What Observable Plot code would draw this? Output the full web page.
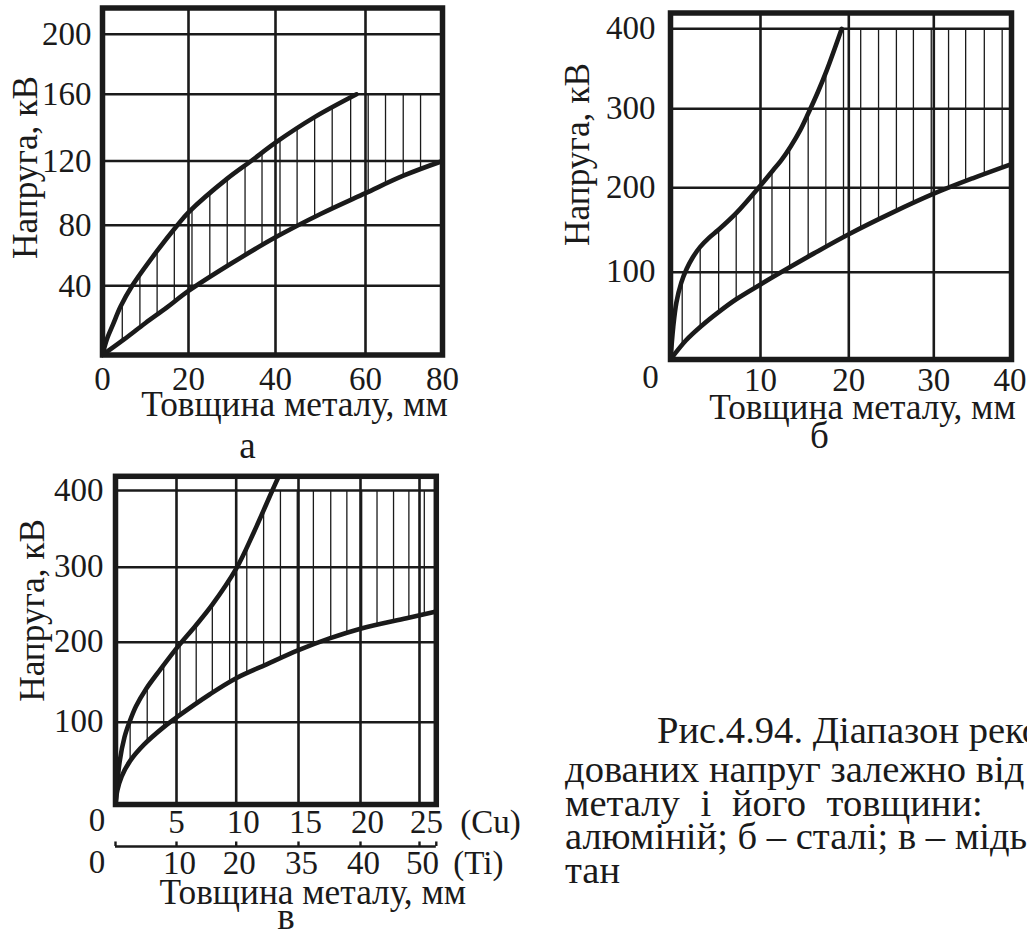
<!DOCTYPE html>
<html>
<head>
<meta charset="utf-8">
<script src="https://cdn.jsdelivr.net/npm/d3@7"></script>
<script src="https://cdn.jsdelivr.net/npm/@observablehq/plot@0.6"></script>
<style>
  html, body { margin: 0; padding: 0; background: #fff; }
  #page { position: relative; width: 1027px; height: 935px; overflow: hidden;
          font-family: "Liberation Serif", "Times New Roman", serif; color: #1a1a1a; }
  .panel { position: absolute; }
  .cap { position: absolute; white-space: pre; font-size: 38.6px; line-height: 40px; }
</style>
</head>
<body>
<div id="page"></div>
<script>
// ---------------- DATA ----------------
// Panel а (алюміній)
const aXGrid = [0, 20, 40, 60, 80];
const aYGrid = [0, 40, 80, 120, 160, 200, 217.5];
const aXTicks = [0, 20, 40, 60, 80];
const aYTicks = [40, 80, 120, 160, 200];
const aUpper = [[0,0],[1,9],[2.5,18],[4.2,28],[6.9,40],[12.7,63],[17.4,80],[20,88],[28.9,109],[34.4,120],[40,131],[48.5,146],[58,160]];
const aLower = [[0,0],[5,9],[10,18.5],[15,27.5],[20,37],[30,55],[40,72],[50,87],[60,100],[70,111],[80,120]];
const aHatch = [4.6,8.7,12.7,16.7,20.8,24.9,28.9,33.0,36.9,41.0,44.8,48.7,52.6,56.7,60.7,65.2,69.8,74.3];
const aCap = 160;

// Panel б (сталь)
const bXGrid = [0, 10, 20, 30, 40];
const bYGrid = [0, 100, 200, 300, 400, 419.75];
const bXTicks = [10, 20, 30, 40];
const bYTicks = [100, 200, 300, 400];
const bUpper = [[0,0],[0.3,37],[0.65,65],[1.2,88],[1.8,104],[2.5,118],[3.3,130],[4.3,141],[5.3,150],[7.3,170],[10,203],[11.4,222],[12.3,234],[13.4,252],[14.5,273],[15.4,294],[16.5,321],[17.5,348],[19.2,400]];
const bLower = [[0,0],[1.73,22],[3.5,39],[5.3,54],[7.3,69],[10,86],[11.4,94.5],[13.4,106.5],[16,122],[20,145],[25,170],[30,193],[35,212],[40,230]];
const bHatch = [1.3,3.3,5.35,7.3,9.26,11.3,13.3,15.4,17.4,19.4,21.4,23.5,25.6,27.6,29.7,31.9,34.1,36.5,38.8];
const bCap = 400;

// Panel в (мідь і титан)
const cXGrid = [0, 5, 10, 15, 20, 25, 26.4];
const cYGrid = [0, 100, 200, 300, 400, 418.5];
const cuTicks = [5, 10, 15, 20, 25];
const tiTickPos = [0, 5, 10, 15, 20, 25, 26.4];
const tiLabels = ["10", "20", "35", "40", "50"];
const cYTicks = [100, 200, 300, 400];
const cUpper = [[0,0],[0.34,52],[0.74,82],[1.14,100],[1.68,120],[2.48,141],[3.68,166],[5.2,196],[6.6,222],[8,250],[10,298],[11.4,345],[12.9,400],[13.4,418]];
const cLower = [[0,0],[0.15,17],[0.5,34],[1.2,53],[2.35,73],[3.95,94],[5,106],[7.8,135],[10,155],[12.4,172],[15,190],[17.5,205],[20,218],[23.9,232],[26.4,241]];
const cHatch = [1.2,2.6,3.95,5.3,6.65,8.0,9.45,10.85,12.2,13.55,14.9,16.2,17.6,18.9,20.1,21.4,22.8,24.1,25.4];
const cCap = 400;

// Texts
const yTitle = "Напруга, кВ";
const xTitle = "Товщина металу, мм";
const captionLines = [
  "Рис.4.94. Діапазон реко",
  "дованих напруг залежно від",
  "металу і його товщини:",
  "алюміній; б – сталі; в – мідь",
  "тан"
];

// ---------------- STYLE / LAYOUT ----------------
const INK = "#1a1a1a";
const FONT = "'Liberation Serif', 'Times New Roman', serif";
const FS = 33;     // tick labels
const FT = 35.3;   // axis titles
const FL = 37;     // panel letters
const page = document.getElementById("page");

function makePanel({box, xDomain, xRange, yDomain, yRange, upper, lower, hatch, cap, xGrid, yGrid, extra}) {
  const xr = xRange.map(v => v - box.left);
  const yr = yRange.map(v => v - box.top);
  const X = d => d[0], Y = d => d[1];
  const marks = [
    Plot.ruleX(hatch, {x: d => d, y1: 0, y2: cap, stroke: INK, strokeWidth: 1.3}),
    Plot.areaY(upper, {x: X, y1: Y, y2: cap, fill: "white", curve: "catmull-rom"}),
    Plot.areaY(lower, {x: X, y1: 0, y2: Y, fill: "white", curve: "catmull-rom"}),
    Plot.ruleX(xGrid, {x: d => d, stroke: INK, strokeWidth: 2.6}),
    Plot.ruleY(yGrid, {y: d => d, stroke: INK, strokeWidth: 2.6}),
    Plot.line(upper, {x: X, y: Y, stroke: INK, strokeWidth: 4.6, curve: "catmull-rom"}),
    Plot.line(lower, {x: X, y: Y, stroke: INK, strokeWidth: 4.6, curve: "catmull-rom"}),
    Plot.frame({stroke: INK, strokeWidth: 5.5}),
    ...extra
  ];
  const svg = Plot.plot({
    width: box.width,
    height: box.height,
    marginLeft: xr[0],
    marginRight: box.width - xr[xr.length - 1],
    marginTop: yr[yr.length - 1],
    marginBottom: box.height - yr[0],
    x: {type: "linear", domain: xDomain, range: xr, axis: null},
    y: {type: "linear", domain: yDomain, range: yr, axis: null},
    style: {background: "transparent", fontFamily: FONT, fontSize: FS + "px", color: INK, overflow: "visible"},
    marks
  });
  svg.classList.add("panel");
  svg.style.left = box.left + "px";
  svg.style.top = box.top + "px";
  page.appendChild(svg);
}

const T = (o) => ({fill: INK, fontSize: FS, lineAnchor: "bottom", ...o});
const YT = (o) => T({text: d => d, frameAnchor: "left", rotate: -90, textAnchor: "middle", lineAnchor: "middle", fontSize: FT, ...o});

// Panel а
makePanel({
  box: {left: 0, top: 0, width: 480, height: 470},
  xDomain: aXGrid, xRange: [102, 188, 275, 365, 442],
  yDomain: aYGrid, yRange: [354.5, 285.3, 224.7, 160.5, 93.8, 33.8, 7.5],
  upper: aUpper, lower: aLower, hatch: aHatch, cap: aCap,
  xGrid: aXTicks, yGrid: aYTicks,
  extra: [
    Plot.text(aXTicks, T({x: d => d, text: d => String(d), frameAnchor: "bottom", dy: 35})),
    Plot.text(aYTicks, T({y: d => d, text: d => String(d), frameAnchor: "left", textAnchor: "end", dx: -11, dy: 11})),
    Plot.text([yTitle], YT({dx: -77, dy: -14})),
    Plot.text([xTitle], T({text: d => d, frameAnchor: "bottom", dx: 22, dy: 61, fontSize: FT})),
    Plot.text(["а"], T({text: d => d, frameAnchor: "bottom", dx: -25, dy: 103, fontSize: FL}))
  ]
});

// Panel б
makePanel({
  box: {left: 540, top: 0, width: 487, height: 460},
  xDomain: bXGrid, xRange: [670, 760, 848.3, 933.3, 1011],
  yDomain: bYGrid, yRange: [359, 271.7, 187.3, 108.3, 28.3, 12.5],
  upper: bUpper, lower: bLower, hatch: bHatch, cap: bCap,
  xGrid: bXTicks, yGrid: bYTicks,
  extra: [
    Plot.text(bXTicks.slice(0, 3), T({x: d => d, text: d => String(d), frameAnchor: "bottom", dy: 31})),
    Plot.text(bXTicks.slice(3), T({x: d => d, text: d => String(d), frameAnchor: "bottom", dx: -1.5, dy: 31})),
    Plot.text([0], T({x: d => d, text: d => String(d), frameAnchor: "bottom", dx: -20, dy: 28})),
    Plot.text(bYTicks, T({y: d => d, text: d => String(d), frameAnchor: "left", textAnchor: "end", dx: -15, dy: 10})),
    Plot.text([yTitle], YT({dx: -92.5, dy: -31.75})),
    Plot.text([xTitle], T({text: d => d, frameAnchor: "bottom", dx: 21.5, dy: 59, fontSize: FT})),
    Plot.text(["б"], T({text: d => d, frameAnchor: "bottom", dx: -21.5, dy: 88, fontSize: FL}))
  ]
});

// Panel в
makePanel({
  box: {left: 0, top: 470, width: 540, height: 465},
  xDomain: cXGrid, xRange: [115, 176, 235.7, 298, 360, 419, 435.8],
  yDomain: cYGrid, yRange: [804, 721.7, 641.7, 566.7, 490, 475.8],
  upper: cUpper, lower: cLower, hatch: cHatch, cap: cCap,
  xGrid: cuTicks, yGrid: cYTicks,
  extra: [
    Plot.text(cuTicks.slice(0, 1), T({x: d => d, text: d => String(d), frameAnchor: "bottom", dy: 28})),
    Plot.text(cuTicks.slice(1), T({x: d => d, text: d => String(d), frameAnchor: "bottom", dx: 7, dy: 28})),
    Plot.text([0], T({x: d => d, text: d => String(d), frameAnchor: "bottom", dx: -18.5, dy: 26})),
    Plot.text(["(Cu)"], T({text: d => d, frameAnchor: "bottom-right", textAnchor: "start", dx: 24, dy: 28})),
    Plot.ruleY([0], {y: d => d, dy: 42, stroke: INK, strokeWidth: 2.6}),
    Plot.ruleX(tiTickPos, {x: d => d, y1: 0, y2: 5.5, dy: 42, stroke: INK, strokeWidth: 2.4}),
    Plot.text(tiLabels, T({x: (d, i) => cuTicks[i], text: d => d, frameAnchor: "bottom", dx: 3, dy: 69})),
    Plot.text([0], T({x: d => d, text: d => String(d), frameAnchor: "bottom", dx: -18.5, dy: 68})),
    Plot.text(["(Ti)"], T({text: d => d, frameAnchor: "bottom-right", textAnchor: "start", dx: 17, dy: 69})),
    Plot.text(cYTicks, T({y: d => d, text: d => String(d), frameAnchor: "left", textAnchor: "end", dx: -12, dy: 10})),
    Plot.text([yTitle], YT({dx: -83, dy: -30})),
    Plot.text([xTitle], T({text: d => d, frameAnchor: "bottom", dx: 37, dy: 99, fontSize: FT})),
    Plot.text(["в"], T({text: d => d, frameAnchor: "bottom", dx: 10, dy: 124, fontSize: FL}))
  ]
});

// Caption (figure text; its right part lies beyond the picture as in the source)
const capPos = [
  {left: 657, base: 742},
  {left: 565, base: 781},
  {left: 565, base: 815, ws: 11},
  {left: 565, base: 848},
  {left: 565, base: 882}
];
captionLines.forEach((line, i) => {
  const d = document.createElement("div");
  d.className = "cap";
  d.textContent = line;
  d.style.left = capPos[i].left + "px";
  d.style.top = (capPos[i].base - 32) + "px";
  if (capPos[i].ws) d.style.wordSpacing = capPos[i].ws + "px";
  page.appendChild(d);
});
</script>
</body>
</html>
